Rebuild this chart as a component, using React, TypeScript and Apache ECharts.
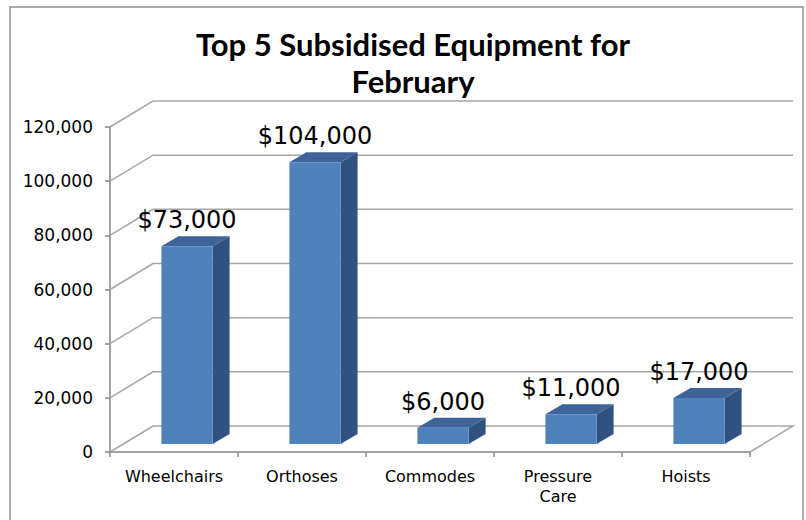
import React, { useEffect, useRef } from "react";
import * as echarts from "echarts";

const categories = ["Wheelchairs", "Orthoses", "Commodes", "Pressure Care", "Hoists"];
const values = [73000, 104000, 6000, 11000, 17000];
const yTicks = [0, 20000, 40000, 60000, 80000, 100000, 120000];
const titleText = "Top 5 Subsidised Equipment for\nFebruary";

// 3D projection offsets (pixels)
const WALL_DX = 43;
const WALL_DY = -26;
const BAR_OX = 13;
const BAR_OY = -8;
const BAR_DX = 17;
const BAR_DY = -10;

const GRID_COLOR = "#A6A6A6";
const AXIS_COLOR = "#868686";

export default function App() {
  const ref = useRef<HTMLDivElement>(null);

  useEffect(() => {
    if (!ref.current) return;
    const chart = echarts.init(ref.current, null, { renderer: "svg" });

    const option: any = {
      animation: false,
      backgroundColor: "#ffffff",
      title: {
        text: titleText,
        left: 408,
        top: 20,
        textAlign: "center",
        textStyle: {
          fontFamily: "Lato",
          fontWeight: "bold",
          fontSize: 31,
          lineHeight: 37,
          color: "#000000",
        },
      },
      graphic: [
        {
          type: "rect",
          z: -10,
          shape: { x: 10, y: 7, width: 793, height: 530 },
          style: { fill: "none", stroke: "#8E8E8E", lineWidth: 1.5 },
        },
      ],
      grid: { left: 110, top: 127, width: 640, height: 325 },
      xAxis: {
        type: "category",
        data: categories,
        boundaryGap: true,
        axisLine: { show: true, lineStyle: { color: AXIS_COLOR, width: 1.5 } },
        axisTick: { show: true, length: 5, lineStyle: { color: AXIS_COLOR, width: 1.5 } },
        axisLabel: {
          fontFamily: "DejaVu Sans",
          fontSize: 16,
          color: "#000000",
          margin: 14,
          lineHeight: 20,
          formatter: (v: string) => v.replace(" ", "\n"),
        },
        splitLine: { show: false },
      },
      yAxis: {
        type: "value",
        min: 0,
        max: 120000,
        interval: 20000,
        axisLine: { show: true, lineStyle: { color: AXIS_COLOR, width: 1.5 } },
        axisTick: { show: true, length: 5, lineStyle: { color: AXIS_COLOR, width: 1.5 } },
        axisLabel: {
          fontFamily: "DejaVu Sans",
          fontSize: 17,
          color: "#000000",
          margin: 17,
          formatter: (v: number) => v.toLocaleString("en-US"),
        },
        splitLine: { show: false },
      },
      series: [
        {
          type: "custom",
          name: "walls",
          z: 1,
          silent: true,
          data: yTicks.map((v) => [0, v]),
          encode: { x: 0, y: 1 },
          renderItem: (params: any, api: any) => {
            const v = api.value(1);
            const cs = params.coordSys;
            const y = api.coord([0, v])[1];
            const x0 = cs.x;
            const x1 = cs.x + cs.width;
            const pts: number[][] = [
              [x0, y],
              [x0 + WALL_DX, y + WALL_DY],
              [x1 + WALL_DX, y + WALL_DY],
            ];
            if (v === 0) pts.push([x1, y]);
            return {
              type: "polyline",
              shape: { points: pts },
              style: { stroke: GRID_COLOR, lineWidth: 1.5, fill: "none" },
            };
          },
        },
        {
          type: "custom",
          name: "bars",
          z: 2,
          data: values.map((v, i) => [i, v]),
          encode: { x: 0, y: 1 },
          renderItem: (params: any, api: any) => {
            const i = api.value(0);
            const v = api.value(1);
            const base = api.coord([i, 0]);
            const top = api.coord([i, v]);
            const bw = api.size([1, 0])[0] * 0.4;
            const cx = base[0] + BAR_OX;
            const xl = cx - bw / 2;
            const xr = cx + bw / 2;
            const yb = base[1] + BAR_OY;
            const yt = top[1] + BAR_OY;
            return {
              type: "group",
              children: [
                {
                  type: "polygon",
                  shape: {
                    points: [
                      [xr, yt],
                      [xr + BAR_DX, yt + BAR_DY],
                      [xr + BAR_DX, yb + BAR_DY],
                      [xr, yb],
                    ],
                  },
                  style: { fill: "#31527F" },
                },
                {
                  type: "polygon",
                  shape: {
                    points: [
                      [xl, yt],
                      [xl + BAR_DX, yt + BAR_DY],
                      [xr + BAR_DX, yt + BAR_DY],
                      [xr, yt],
                    ],
                  },
                  style: { fill: "#3D6399" },
                },
                {
                  type: "rect",
                  shape: { x: xl, y: yt, width: bw, height: yb - yt },
                  style: { fill: "#4F81BD" },
                },
                {
                  type: "text",
                  style: {
                    text: "$" + v.toLocaleString("en-US"),
                    x: cx,
                    y: yt + BAR_DY - 4,
                    align: "center",
                    verticalAlign: "bottom",
                    fontFamily: "DejaVu Sans",
                    fontSize: 24,
                    fill: "#000000",
                  },
                },
              ],
            };
          },
        },
      ],
    };

    chart.setOption(option);
    return () => chart.dispose();
  }, []);

  return (
    <div
      ref={ref}
      style={{ position: "fixed", left: 0, top: 0, width: 806, height: 520 }}
    />
  );
}
